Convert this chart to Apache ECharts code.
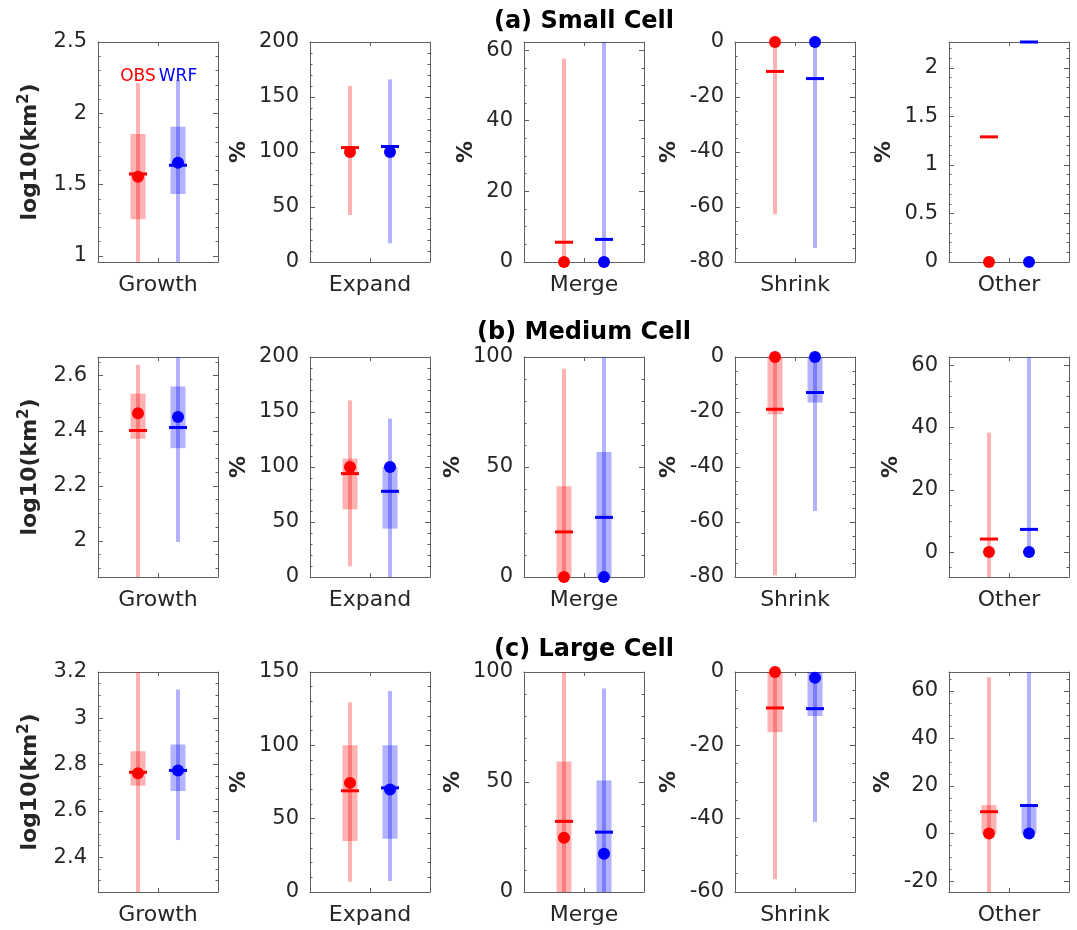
<!DOCTYPE html>
<html>
<head>
<meta charset="utf-8">
<title>Cell evolution statistics</title>
<script src="https://cdn.jsdelivr.net/npm/echarts@6/dist/echarts.min.js"></script>
<style>
  html, body { margin: 0; padding: 0; background: #fff; }
  #chart { width: 1077px; height: 930px; }
</style>
</head>
<body>
<div id="chart"></div>
<script>
// ---- data -------------------------------------------------------------
const cellTitles = ['(a) Small Cell', '(b) Medium Cell', '(c) Large Cell'];
const processNames = ['Growth', 'Expand', 'Merge', 'Shrink', 'Other'];
const sourceNames = ['OBS', 'WRF'];

// per process: [lower whisker, q1, q3, upper whisker, median (dot), mean (dash)]
const smallObs = [
  [0.70, 1.257, 1.855, 2.21, 1.556, 1.575],
  [42.7, 100, 100, 160, 100, 104],
  [0, 0, 0, 57.6, 0, 5.6],
  [-62.7, 0, 0, 0, 0, -10.7],
  [0, 0, 0, 0, 0, 1.29]
];
const smallWrf = [
  [0.70, 1.435, 1.906, 2.234, 1.654, 1.636],
  [17, 100, 100, 166, 100, 105],
  [0, 0, 0, 70, 0, 6.4],
  [-74.9, 0, 0, 0, 0, -13.3],
  [0, 0, 0, 0, 0, 2.268]
];
const mediumObs = [
  [1.70, 2.371, 2.535, 2.640, 2.464, 2.401],
  [9.7, 61.5, 107.6, 160.6, 100, 94],
  [0, 0, 41.2, 94.7, 0, 20.5],
  [-79.4, -20.8, 0, 0, 0, -19],
  [-12, 0, 0, 38.4, 0, 4.2]
];
const mediumWrf = [
  [1.996, 2.337, 2.561, 2.75, 2.450, 2.412],
  [0, 44, 100, 144, 100, 77.9],
  [0, 0, 56.8, 110, 0, 27.1],
  [-56, -16.6, 0, 0, 0, -12.9],
  [0, 0, 0, 70, 0, 7.3]
];
const largeObs = [
  [2.10, 2.709, 2.858, 3.30, 2.763, 2.767],
  [7.0, 34.7, 100, 129.3, 74.4, 69],
  [0, 0, 59.3, 110, 24.7, 32.1],
  [-56.5, -16.4, 0, 0, 0, -9.8],
  [-30, 0, 12.0, 65.8, 0, 9.2]
];
const largeWrf = [
  [2.474, 2.686, 2.887, 3.124, 2.775, 2.775],
  [7.5, 36.3, 100, 137, 69.9, 71],
  [0, 0, 50.7, 92.5, 17.4, 27.2],
  [-40.9, -12.0, 0, 0, -1.6, -10.0],
  [0, 0, 11.8, 75, 0, 11.8]
];

// y-axis limits per panel
const smallYRange  = [[0.958, 2.5], [0, 200], [0, 62.3], [-80, 0], [0, 2.268]];
const mediumYRange = [[1.869, 2.668], [0, 200], [0, 100], [-80, 0], [-8.0, 62.7]];
const largeYRange  = [[2.25, 3.2], [0, 150], [0, 100], [-60, 0], [-24.6, 68]];

// y-axis tick labels per panel
const smallTicks = [[1, 1.5, 2, 2.5], [0, 50, 100, 150, 200], [0, 20, 40, 60], [-80, -60, -40, -20, 0], [0, 0.5, 1, 1.5, 2]];
const mediumTicks = [[2, 2.2, 2.4, 2.6], [0, 50, 100, 150, 200], [0, 50, 100], [-80, -60, -40, -20, 0], [0, 20, 40, 60]];
const largeTicks = [[2.4, 2.6, 2.8, 3, 3.2], [0, 50, 100, 150], [0, 50, 100], [-60, -40, -20, 0], [-20, 0, 20, 40, 60]];

// minor tick spacing per panel
const smallMinor = [0.1, 10, 5, 5, 0.1];
const mediumMinor = [0.05, 10, 10, 5, 5];
const largeMinor = [0.05, 10, 10, 5, 5];

// legend text height (data units of the first panel)
const legendY = 2.26;

// ---- layout & style ----------------------------------------------------
const FONT = 'DejaVu Sans';
const TEXT = '#262626';
const AXIS = '#606060';
const SOLID = ['#ff0000', '#0000ff'];
const LIGHT = ['rgba(255,0,0,0.3)', 'rgba(0,0,255,0.3)'];
const colLeft = [98, 310, 524, 735, 949];
const rowTop = [42, 357, 672];
const gridW = 120, gridH = 220;
const titleY = [22, 333, 650];
const titleX = 584;
const TICK_FONT = 21;

const rows = [
  { obs: smallObs, wrf: smallWrf, range: smallYRange, ticks: smallTicks, minor: smallMinor },
  { obs: mediumObs, wrf: mediumWrf, range: mediumYRange, ticks: mediumTicks, minor: mediumMinor },
  { obs: largeObs, wrf: largeWrf, range: largeYRange, ticks: largeTicks, minor: largeMinor }
];

const fmt = v => String(+(+v).toFixed(3));
const measureCtx = document.createElement('canvas').getContext('2d');
measureCtx.font = TICK_FONT + 'px "' + FONT + '"';
const labelWidth = ticks => Math.max.apply(null, ticks.map(t => measureCtx.measureText(fmt(t)).width));

function minorValues(range, step, ticks) {
  const out = [];
  const start = Math.ceil(range[0] / step - 1e-9);
  const end = Math.floor(range[1] / step + 1e-9);
  for (let i = start; i <= end; i++) {
    const v = +(i * step).toFixed(6);
    if (!ticks.some(t => Math.abs(t - v) < 1e-9)) out.push(v);
  }
  return out;
}

const grid = [], xAxis = [], yAxis = [], series = [];

rows.forEach((row, r) => {
  processNames.forEach((proc, c) => {
    const k = r * 5 + c;
    const box = { left: colLeft[c], top: rowTop[r], width: gridW, height: gridH };
    grid.push(Object.assign({}, box), Object.assign({}, box));
    const gMain = 2 * k, gMinor = 2 * k + 1;
    const yr = row.range[c];
    const ticks = row.ticks[c];
    const minors = minorValues(yr, row.minor[c], ticks);

    // x axes: bottom (with process name), top, and a hidden one for the minor grid
    xAxis.push({
      gridIndex: gMain, type: 'value', min: 0, max: 3, position: 'bottom',
      axisLine: { show: true, onZero: false, lineStyle: { color: AXIS, width: 1 } },
      axisTick: { show: true, inside: true, length: 4, customValues: [1.5], lineStyle: { color: AXIS } },
      axisLabel: { show: false }, splitLine: { show: false },
      name: proc, nameLocation: 'middle', nameGap: 12,
      nameTextStyle: { fontFamily: FONT, fontSize: 22, color: TEXT, verticalAlign: 'top' }
    });
    xAxis.push({
      gridIndex: gMain, type: 'value', min: 0, max: 3, position: 'top',
      axisLine: { show: true, onZero: false, lineStyle: { color: AXIS, width: 1 } },
      axisTick: { show: true, inside: true, length: 4, customValues: [1.5], lineStyle: { color: AXIS } },
      axisLabel: { show: false }, splitLine: { show: false }
    });
    xAxis.push({
      gridIndex: gMinor, type: 'value', min: 0, max: 3, show: false
    });

    const isGrowth = c === 0;
    const nameGap = 11 + labelWidth(ticks) + 9;
    yAxis.push({
      gridIndex: gMain, type: 'value', min: yr[0], max: yr[1], position: 'left',
      axisLine: { show: true, onZero: false, lineStyle: { color: AXIS, width: 1 } },
      axisTick: { show: true, inside: true, length: 5, customValues: ticks, lineStyle: { color: AXIS } },
      axisLabel: { show: true, customValues: ticks, margin: 11, formatter: fmt,
        fontFamily: FONT, fontSize: TICK_FONT, color: TEXT },
      splitLine: { show: false },
      name: isGrowth ? '{b|log10(km}{s|2}{b|)}' : '%',
      nameLocation: 'middle', nameGap: nameGap,
      nameTextStyle: {
        fontFamily: FONT, fontSize: 22, fontWeight: 'bold', color: TEXT,
        rich: {
          b: { fontFamily: FONT, fontSize: 22, fontWeight: 'bold', color: TEXT, lineHeight: 28 },
          s: { fontFamily: FONT, fontSize: 15, fontWeight: 'bold', color: TEXT, verticalAlign: 'top', lineHeight: 15 }
        }
      }
    });
    yAxis.push({
      gridIndex: gMain, type: 'value', min: yr[0], max: yr[1], position: 'right',
      axisLine: { show: true, onZero: false, lineStyle: { color: AXIS, width: 1 } },
      axisTick: { show: true, inside: true, length: 5, customValues: ticks, lineStyle: { color: AXIS } },
      axisLabel: { show: false }, splitLine: { show: false }
    });
    // minor ticks on both sides
    ['left', 'right'].forEach(pos => {
      yAxis.push({
        gridIndex: gMinor, type: 'value', min: yr[0], max: yr[1], position: pos,
        axisLine: { show: false },
        axisTick: { show: true, inside: true, length: 2.5, customValues: minors, lineStyle: { color: AXIS } },
        axisLabel: { show: false }, splitLine: { show: false }
      });
    });

    const xIdx = 3 * k, yIdx = 4 * k;
    const stats = [row.obs[c], row.wrf[c]];

    // whiskers and interquartile boxes (clipped to the plot box)
    series.push({
      type: 'custom', xAxisIndex: xIdx, yAxisIndex: yIdx, z: 2,
      data: stats.map((s, i) => [i + 1, s[0], s[1], s[2], s[3], i]),
      renderItem: function (params, api) {
        const x = api.value(0);
        const src = api.value(5);
        const pLo = api.coord([x, api.value(1)]);
        const pQ1 = api.coord([x, api.value(2)]);
        const pQ3 = api.coord([x, api.value(3)]);
        const pHi = api.coord([x, api.value(4)]);
        const cs = params.coordSys;
        return {
          type: 'group',
          clipPath: { type: 'rect', shape: { x: cs.x, y: cs.y, width: cs.width, height: cs.height } },
          children: [
            { type: 'rect', shape: { x: pLo[0] - 2, y: pHi[1], width: 4, height: pLo[1] - pHi[1] },
              style: { fill: LIGHT[src] } },
            { type: 'rect', shape: { x: pQ1[0] - 7.5, y: pQ3[1], width: 15, height: pQ1[1] - pQ3[1] },
              style: { fill: LIGHT[src] } }
          ]
        };
      }
    });
    // mean dashes
    series.push({
      type: 'custom', xAxisIndex: xIdx, yAxisIndex: yIdx, z: 3,
      data: stats.map((s, i) => [i + 1, s[5], i]),
      renderItem: function (params, api) {
        const p = api.coord([api.value(0), api.value(1)]);
        return { type: 'rect', shape: { x: p[0] - 9, y: p[1] - 1.5, width: 18, height: 3 },
          style: { fill: SOLID[api.value(2)] } };
      }
    });
    // median dots
    series.push({
      type: 'scatter', xAxisIndex: xIdx, yAxisIndex: yIdx, z: 4, clip: false,
      symbol: 'circle', symbolSize: 12, silent: true,
      data: stats.map((s, i) => ({ value: [i + 1, s[4]], itemStyle: { color: SOLID[i], opacity: 1 } }))
    });

    // source labels in the first panel
    if (k === 0) {
      series.push({
        type: 'custom', xAxisIndex: xIdx, yAxisIndex: yIdx, z: 5,
        data: sourceNames.map((n, i) => [i + 1, legendY, i]),
        renderItem: function (params, api) {
          const p = api.coord([api.value(0), api.value(1)]);
          const i = api.value(2);
          return { type: 'text', x: p[0], y: p[1],
            style: { text: sourceNames[i], fill: SOLID[i], font: '17px "' + FONT + '"',
              textAlign: 'center', textVerticalAlign: 'middle' } };
        }
      });
    }
  });
});

const graphic = cellTitles.map((t, r) => ({
  type: 'text', x: titleX, y: titleY[r],
  style: { text: t, font: 'bold 24px "' + FONT + '"', fill: '#000',
    textAlign: 'center', textVerticalAlign: 'middle' }
}));

const chart = echarts.init(document.getElementById('chart'), null, { renderer: 'canvas' });
chart.setOption({
  animation: false,
  backgroundColor: '#ffffff',
  grid: grid,
  xAxis: xAxis,
  yAxis: yAxis,
  series: series,
  graphic: graphic
});
</script>
</body>
</html>
